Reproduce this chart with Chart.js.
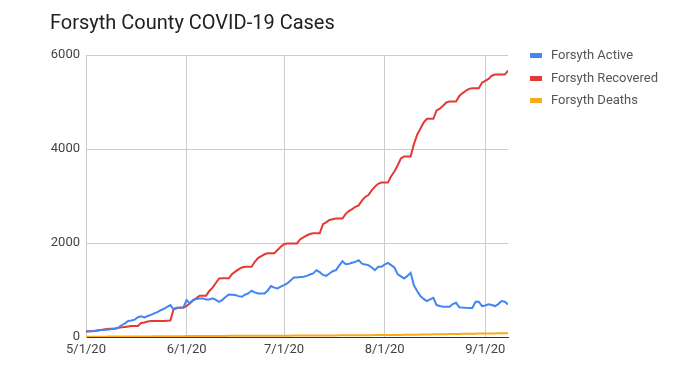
<!DOCTYPE html>
<html>
<head>
<meta charset="utf-8">
<script src="https://cdn.jsdelivr.net/npm/chart.js@4"></script>
<style>
  body { margin: 0; background: #fff; font-family: Roboto, sans-serif; }
  #wrap { position: relative; width: 680px; height: 367px; }
  #title { position: absolute; left: 50px; top: 10px; font-size: 20px; color: #212121; }
  #legend { position: absolute; left: 530px; top: 46px; font-size: 13px; color: #555; }
  .item { height: 22.5px; line-height: 17px; white-space: nowrap; }
  .swatch { display: inline-block; width: 12px; height: 5px; margin-right: 9px; vertical-align: middle; }
</style>
</head>
<body>
<div id="wrap">
  <canvas id="lineChart" width="680" height="367"></canvas>
  <div id="title">Forsyth County COVID-19 Cases</div>
  <div id="legend"></div>
</div>
<script>
// x tick labels and the day (since 5/1/20) each one sits on
const dateLabels = ['5/1/20', '6/1/20', '7/1/20', '8/1/20', '9/1/20'];
const dateTickDays = [0, 31, 61, 92, 123];

const seriesNames = ['Forsyth Active', 'Forsyth Recovered', 'Forsyth Deaths'];
const seriesColors = ['#4285F4', '#E53935', '#F9AB19'];

// daily values, 5/1/20 .. 9/8/20
const activeCases = [
  113, 120, 125, 135, 145, 150, 155, 160, 170, 180,
  200, 250, 290, 340, 350, 370, 420, 440, 418, 446,
  470, 503, 530, 570, 600, 640, 679, 590, 610, 630,
  631, 786, 716, 780, 810, 821, 821, 800, 800, 821,
  790, 750, 790, 850, 906, 900, 892, 870, 856, 900,
  927, 983, 950, 927, 927, 927, 990, 1083, 1050, 1034,
  1070, 1104, 1140, 1200, 1267, 1267, 1275, 1281, 1300, 1330,
  1352, 1422, 1380, 1320, 1302, 1350, 1400, 1422, 1520, 1614,
  1550, 1560, 1578, 1600, 1635, 1560, 1543, 1529, 1480, 1422,
  1493, 1493, 1540, 1578, 1530, 1480, 1338, 1290, 1246, 1300,
  1365, 1104, 980, 870, 810, 764, 800, 834, 679, 660,
  643, 643, 643, 700, 728, 631, 625, 620, 618, 616,
  750, 750, 658, 670, 694, 680, 658, 700, 764, 750,
  694
];

const recoveredCases = [
  120, 120, 120, 135, 145, 155, 165, 175, 175, 175,
  195, 205, 215, 225, 234, 234, 234, 300, 310, 330,
  340, 340, 340, 340, 340, 345, 350, 594, 620, 620,
  620, 660, 720, 785, 830, 880, 880, 880, 980, 1050,
  1150, 1246, 1250, 1250, 1250, 1340, 1390, 1440, 1480, 1495,
  1495, 1495, 1600, 1680, 1720, 1760, 1780, 1780, 1780, 1850,
  1920, 1975, 1990, 1990, 1990, 1990, 2080, 2120, 2160, 2190,
  2205, 2205, 2205, 2400, 2440, 2490, 2505, 2520, 2520, 2520,
  2620, 2680, 2720, 2770, 2800, 2900, 2980, 3020, 3120, 3200,
  3260, 3285, 3285, 3285, 3420, 3520, 3650, 3800, 3843, 3843,
  3843, 4100, 4300, 4431, 4560, 4643, 4643, 4643, 4820, 4860,
  4920, 4990, 5010, 5010, 5010, 5130, 5190, 5240, 5280, 5293,
  5293, 5293, 5410, 5450, 5490, 5560, 5583, 5583, 5583, 5583,
  5668
];

const deathCases = [
  5, 5, 5, 6, 6, 7, 7, 8, 8, 8,
  9, 9, 10, 10, 11, 11, 11, 12, 12, 13,
  13, 14, 14, 14, 15, 15, 16, 16, 17, 17,
  18, 19, 19, 20, 20, 21, 21, 21, 22, 22,
  22, 23, 23, 23, 24, 24, 24, 25, 25, 25,
  25, 26, 26, 26, 27, 27, 27, 27, 28, 28,
  28, 29, 29, 29, 30, 30, 30, 31, 31, 31,
  32, 32, 32, 33, 33, 34, 34, 34, 35, 35,
  35, 36, 36, 37, 37, 37, 38, 38, 39, 40,
  40, 41, 41, 41, 42, 43, 44, 45, 46, 46,
  47, 48, 50, 51, 53, 54, 55, 56, 57, 58,
  60, 61, 62, 63, 64, 66, 67, 68, 69, 70,
  71, 72, 73, 74, 75, 76, 77, 78, 79, 80,
  82
];

const seriesValues = [activeCases, recoveredCases, deathCases];

function toPoints(values) {
  return values.map((v, i) => ({ x: i, y: v }));
}

const tickFont = { family: 'Roboto', size: 13 };

new Chart(document.getElementById('lineChart').getContext('2d'), {
  type: 'line',
  data: {
    datasets: seriesValues.map((vals, i) => ({
      label: seriesNames[i],
      data: toPoints(vals),
      borderColor: seriesColors[i],
      backgroundColor: seriesColors[i],
      borderWidth: 2,
      pointRadius: 0,
      tension: 0
    }))
  },
  options: {
    responsive: false,
    animation: false,
    devicePixelRatio: 1,
    layout: { padding: { left: 0, top: 55, right: 172, bottom: 0 } },
    scales: {
      x: {
        type: 'linear',
        min: 0,
        max: activeCases.length - 1,
        afterBuildTicks: s => { s.ticks = dateTickDays.map(d => ({ value: d })); },
        afterFit: s => { s.height = 30; },
        ticks: {
          callback: v => dateLabels[dateTickDays.indexOf(v)],
          font: tickFont,
          color: '#444',
          maxRotation: 0,
          padding: 5
        },
        grid: { color: '#cccccc', drawTicks: false },
        border: { color: '#333333' }
      },
      y: {
        min: 0,
        max: 6000,
        afterFit: s => { s.width = 86; },
        ticks: {
          stepSize: 2000,
          callback: v => String(v), // no thousands separator
          font: tickFont,
          color: '#444',
          padding: 6
        },
        grid: { color: '#cccccc', drawTicks: false },
        border: { color: '#cccccc' }
      }
    },
    plugins: {
      legend: { display: false }, // drawn as html on the right
      tooltip: { enabled: false }
    }
  }
});

const legend = document.getElementById('legend');
seriesNames.forEach((name, i) => {
  const row = document.createElement('div');
  row.className = 'item';
  row.innerHTML = '<span class="swatch" style="background:' + seriesColors[i] + '"></span>' + name;
  legend.appendChild(row);
});
</script>
</body>
</html>
